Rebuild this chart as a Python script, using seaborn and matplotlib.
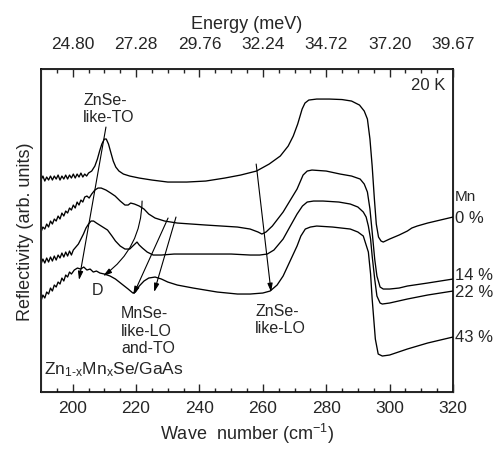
import numpy as np
import pandas as pd
import matplotlib
matplotlib.use("Agg")
import matplotlib.pyplot as plt
import seaborn as sns

# reflectivity spectra (y in arbitrary units)
x_mn0 = [190.0, 190.6, 191.2, 191.8, 192.4, 193.0, 193.6, 194.2, 194.8, 195.4, 196.0, 196.6, 197.2,
         197.8, 198.4, 199.0, 199.6, 200.2, 200.8, 201.4, 202.0, 202.6, 203.2, 203.8, 204.4, 205.0,
         206.0, 207.0, 207.8, 208.5, 209.2, 210.0, 210.6, 211.3, 212.0, 212.8, 213.6, 214.6, 216.0,
         218.0, 221.0, 225.0, 230.0, 236.0, 242.0, 248.0, 253.0, 258.0, 262.0, 265.5, 268.0, 269.6,
         271.0, 272.4, 273.3, 274.5, 277.0, 281.0, 285.0, 288.0, 290.5, 292.0, 293.0, 293.8, 294.5,
         295.2, 295.8, 296.5, 297.3, 298.0, 300.0, 303.0, 305.6, 307.0, 308.7, 312.0, 316.0, 320.0]
y_mn0 = [212, 216, 211, 215, 212, 216, 212, 216, 213, 217, 212, 216, 213, 217, 213, 217, 214, 218,
         214, 218, 215, 219, 215, 218, 216, 219,
         221, 226, 233, 241, 248, 253, 253, 248, 240, 231, 225, 221, 218,
         216, 214, 212, 210, 210, 211, 214, 217, 221, 228, 236, 246, 256,
         268, 283, 289, 292, 293, 293, 292.5, 291, 287, 281, 273, 253, 226,
         193, 168, 155, 151, 150, 153, 157, 161, 164, 166, 169, 172, 175]

x_mn14 = [190.0, 190.6, 191.2, 191.8, 192.4, 193.0, 193.6, 194.2, 194.8, 195.4, 196.0, 196.6,
          197.2, 197.8, 198.4, 199.0, 199.6, 200.2, 200.8, 201.4, 202.0, 202.6, 203.2, 203.8,
          204.5, 205.2, 206.0, 207.0, 208.0, 209.0, 210.5, 212.0, 213.4, 215.0, 216.5, 217.5,
          218.3, 219.5, 221.0, 222.5, 224.0, 226.0, 229.0, 233.0, 242.0, 252.0, 256.0, 258.5,
          259.7, 261.0, 263.0, 266.4, 268.5, 270.8, 272.7, 274.0, 275.5, 280.0, 284.4, 288.0,
          290.7, 292.0, 293.0, 293.8, 294.5, 295.3, 296.0, 297.0, 298.0, 300.0, 303.0, 305.6,
          312.0, 320.0]
y_mn14 = [160, 165, 163, 168, 165, 171, 168, 173, 171, 176, 173, 179, 176, 181, 179, 184, 182,
          187, 184, 190, 187, 192, 190, 195,
          196, 194, 198, 202, 204, 204, 202, 199, 196, 191, 187, 187,
          189, 188, 186, 183, 178, 174, 171, 169, 167, 165, 163, 160,
          158, 160, 166, 180, 191, 203, 217, 221, 222, 221, 218, 216,
          213, 208, 200, 183, 160, 133, 116, 105, 103, 103, 104, 106,
          109, 113]

x_mn22 = [190.0, 190.6, 191.2, 191.8, 192.4, 193.0, 193.6, 194.2, 194.8, 195.4, 196.0, 196.6,
          197.2, 197.8, 198.4, 199.0, 199.6, 200.2,
          201.0, 201.8, 202.6, 203.4, 204.2, 205.0, 205.8, 206.6, 207.5, 209.0, 211.0, 212.4,
          213.5, 215.0, 216.5, 218.0, 219.3, 220.3, 221.0, 222.0, 223.5, 225.4, 228.0, 232.0,
          242.0, 250.0, 256.0, 259.0, 261.4, 263.5, 266.4, 268.5, 270.8, 272.5, 274.0, 276.0,
          279.0, 284.0, 287.6, 290.0, 291.7, 292.6, 293.3, 294.0, 294.5, 295.3, 296.0, 297.0,
          297.7, 300.0, 305.6, 312.0, 320.0]
y_mn22 = [128, 133, 129, 134, 130, 135, 131, 136, 132, 137, 134, 139, 135, 140, 136, 141, 137, 142,
          145, 148, 153, 158, 164, 168, 171, 171, 169, 166, 162, 156,
          151, 146, 143, 143, 147, 150, 147, 144, 140, 137, 137, 138,
          138, 138, 137, 137, 138, 142, 153, 165, 178, 186, 190, 191,
          191, 190, 188, 185, 180, 175, 166, 153, 136, 113, 96, 89,
          88, 89, 93, 97, 101]

x_mn43 = [190.0, 190.6, 191.2, 191.8, 192.4, 193.0, 193.6, 194.2, 194.8, 195.4, 196.0, 196.6,
          197.2, 197.8, 198.4, 199.0, 199.6,
          200.5, 201.5, 202.5, 203.5, 204.5, 205.5, 206.5, 207.5, 208.6, 210.0, 211.8, 213.5,
          215.5, 217.5, 219.0, 219.8, 221.0, 222.5, 224.0, 226.0, 228.0, 230.0, 233.0, 238.0,
          245.6, 252.0, 256.0, 260.0, 262.3, 264.5, 266.4, 268.6, 270.8, 272.0, 273.4, 275.0,
          277.0, 282.0, 287.6, 290.0, 291.7, 293.3, 294.0, 294.5, 295.5, 296.4, 297.7, 300.0,
          305.6, 312.0, 320.0]
y_mn43 = [91, 97, 94, 100, 98, 104, 101, 107, 105, 110, 108, 114, 111, 117, 115, 120, 118,
          122, 124, 123, 125, 122, 123, 120, 121, 119, 118, 116, 113,
          108, 103, 99, 100, 106, 111, 114, 115, 113, 110, 107, 104,
          100, 98, 98, 99, 101, 107, 116, 131, 146, 156, 163, 165,
          166, 165, 163, 160, 156, 140, 118, 93, 53, 38, 36, 37,
          43, 49, 55]

energy_labels = ["24.80", "27.28", "29.76", "32.24", "34.72", "37.20", "39.67"]
wn_ticks = [200, 220, 240, 260, 280, 300, 320]
mn_labels = ["0 %", "14 %", "22 %", "43 %"]
mn_label_y = [175, 118, 101, 56]

sns.set_style("ticks")
plt.rcParams['font.family'] = ['Liberation Sans', 'DejaVu Sans']
plt.rcParams['mathtext.fontset'] = 'custom'
plt.rcParams['mathtext.rm'] = 'Liberation Sans'
plt.rcParams['mathtext.it'] = 'Liberation Sans'

fig = plt.figure(figsize=(4.98, 4.52), dpi=100)
ax = fig.add_axes([0.0823, 0.1305, 0.8273, 0.7145])

for xs, ys in [(x_mn0, y_mn0), (x_mn14, y_mn14), (x_mn22, y_mn22), (x_mn43, y_mn43)]:
    df = pd.DataFrame({"wn": xs, "R": ys})
    sns.lineplot(data=df, x="wn", y="R", ax=ax, color="black", lw=0.95,
                 estimator=None, sort=False)

ax.set_xlim(190, 320)
ax.set_ylim(0, 323)
ax.set_yticks([])
ax.set_xticks(wn_ticks)
ax.set_xticks(np.arange(195, 320, 5), minor=True)
ax.tick_params(axis="x", which="major", direction="in", length=5.5, width=1, labelsize=12.5, pad=6)
ax.tick_params(axis="x", which="minor", direction="in", length=3, width=1)
ax.set_xlabel("Wave  number (cm$^{-1}$)", fontsize=13, labelpad=4)
ax.set_ylabel("Reflectivity (arb. units)", fontsize=13, labelpad=5)
for s in ax.spines.values():
    s.set_linewidth(1.2)
    s.set_color("black")

ax2 = ax.twiny()
ax2.set_xlim(190, 320)
ax2.set_xticks(wn_ticks)
ax2.set_xticklabels(energy_labels)
ax2.set_xticks(np.arange(195, 320, 5), minor=True)
ax2.tick_params(axis="x", which="major", direction="in", length=5.5, width=1, labelsize=12.5, pad=13)
ax2.tick_params(axis="x", which="minor", direction="in", length=3, width=1)
ax2.set_xlabel("Energy (meV)", fontsize=13, labelpad=6)

arrow = dict(arrowstyle="-|>,head_length=0.5,head_width=0.15", color="black", lw=0.8,
             shrinkA=0, shrinkB=0)
ax.annotate("", xy=(202.0, 112), xytext=(210.5, 265), arrowprops=arrow)
ax.annotate("", xy=(209.6, 116), xytext=(221.9, 191),
            arrowprops=dict(arrow, connectionstyle="arc3,rad=-0.25"))
ax.annotate("", xy=(219.1, 97), xytext=(230.1, 174), arrowprops=arrow)
ax.annotate("", xy=(225.7, 100), xytext=(232.6, 175), arrowprops=arrow)
ax.annotate("", xy=(262.6, 100), xytext=(257.9, 228), arrowprops=arrow)

ax.text(203.3, 284, "ZnSe-\nlike-TO", fontsize=11.5, va="center", ha="left", linespacing=1.2)
ax.text(317.6, 308, "20 K", fontsize=12, va="center", ha="right")
ax.text(207.7, 103, "D", fontsize=11.5, va="center", ha="center")
ax.text(215.3, 62, "MnSe-\nlike-LO\nand-TO", fontsize=11.5, va="center", ha="left", linespacing=1.2)
ax.text(257.6, 73, "ZnSe-\nlike-LO", fontsize=11.5, va="center", ha="left", linespacing=1.2)
ax.text(191.0, 23, r"Zn$_{\text{1-x}}$Mn$_{\text{x}}$Se/GaAs", fontsize=12.5,
        va="center", ha="left")

ax.text(320.6, 196, "Mn", fontsize=11, va="center", ha="left", clip_on=False)
for lab, yy in zip(mn_labels, mn_label_y):
    ax.text(320.6, yy, lab, fontsize=12, va="center", ha="left", clip_on=False)

fig.savefig("out.png", dpi=100)
